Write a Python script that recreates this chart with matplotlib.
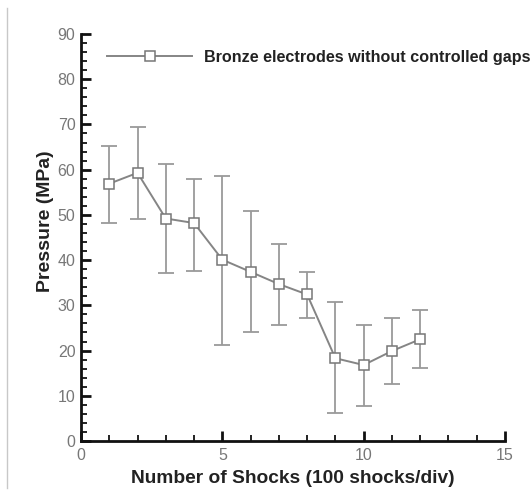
import matplotlib
matplotlib.use("Agg")
import matplotlib.pyplot as plt
from matplotlib.lines import Line2D
from matplotlib.ticker import MultipleLocator
import numpy as np

shocks = [1, 2, 3, 4, 5, 6, 7, 8, 9, 10, 11, 12]
pressure = [56.9, 59.3, 49.2, 48.2, 40.1, 37.4, 34.7, 32.4, 18.3, 16.8, 19.9, 22.5]
err_top = [65.2, 69.5, 61.3, 58.0, 58.7, 50.8, 43.5, 37.4, 30.8, 25.6, 27.1, 28.9]
err_bottom = [48.1, 49.0, 37.2, 37.7, 21.3, 24.1, 25.6, 27.1, 6.2, 7.8, 12.5, 16.2]
series_label = "Bronze electrodes without controlled gaps"

plt.rcParams['font.family'] = ['Liberation Sans', 'DejaVu Sans']

fig = plt.figure(figsize=(5.30, 4.93), dpi=100)
ax = fig.add_axes([0.1528, 0.1055, 0.80, 0.8255])

p = np.array(pressure)
lower = p - np.array(err_bottom)
upper = np.array(err_top) - p

ax.errorbar(shocks, pressure, yerr=[lower, upper], fmt='none', ecolor='#9a9a9a',
            elinewidth=1.3, capsize=5.5, capthick=1.3, zorder=2)
ax.plot(shocks, pressure, color='#858585', lw=1.4, marker='s', markersize=7.5,
        markerfacecolor='white', markeredgecolor='#777777', markeredgewidth=1.1,
        zorder=3, label=series_label)

ax.set_xlim(0, 15)
ax.set_ylim(0, 90)
ax.xaxis.set_major_locator(MultipleLocator(5))
ax.xaxis.set_minor_locator(MultipleLocator(1))
ax.yaxis.set_major_locator(MultipleLocator(10))
ax.yaxis.set_minor_locator(MultipleLocator(2))

for s in ['top', 'right']:
    ax.spines[s].set_visible(False)
for s in ['left', 'bottom']:
    ax.spines[s].set_linewidth(2.0)
    ax.spines[s].set_color('#111111')

ax.tick_params(which='major', direction='in', length=7, width=2, colors='#111111',
               labelcolor='#777777', labelsize=11.5)
ax.tick_params(which='minor', direction='in', length=4.5, width=1.3, colors='#111111')
ax.tick_params(axis='x', pad=5)
ax.tick_params(axis='y', pad=4)

ax.set_xlabel("Number of Shocks (100 shocks/div)", fontsize=13.8, fontweight='bold',
              color='#222222', labelpad=5)
ax.set_ylabel("Pressure (MPa)", fontsize=14, fontweight='bold', color='#222222')
ax.yaxis.set_label_coords(-0.064, 0.539)

leg = ax.legend(loc='center left', bbox_to_anchor=(0.0613, 0.9435), frameon=False,
                handlelength=5.3, handletextpad=0.7, borderaxespad=0, borderpad=0,
                prop={'weight': 'bold', 'size': 11.6})
for t in leg.get_texts():
    t.set_color('#222222')

fig.add_artist(Line2D([7/530, 7/530], [1 - 8/493, 1 - 488/493], transform=fig.transFigure,
                      color='#c8c8c8', lw=1.0))

fig.savefig("out.png", dpi=100)
